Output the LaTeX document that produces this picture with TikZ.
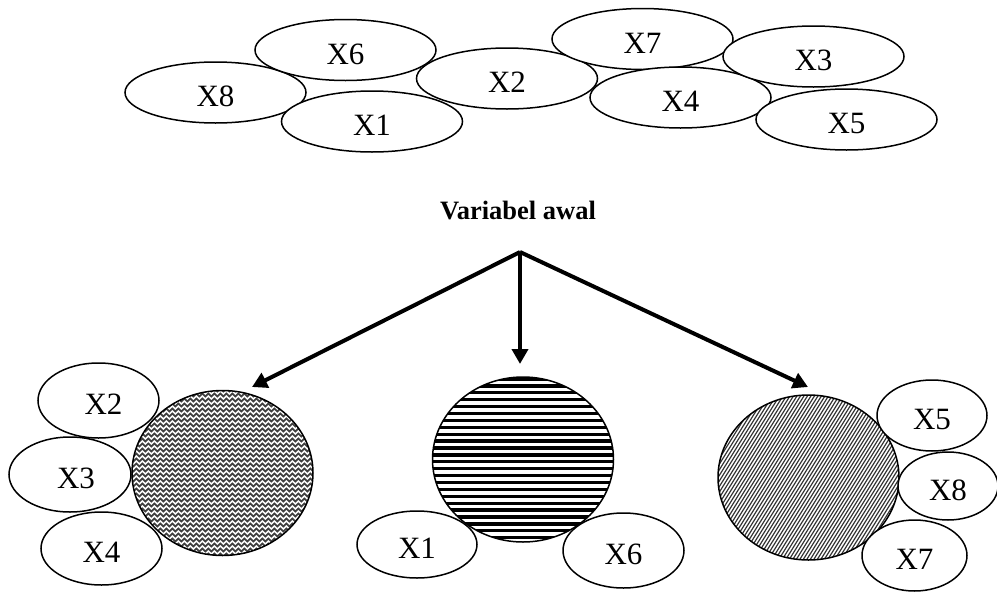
\documentclass[tikz,border=0pt]{standalone}
\usepackage{fontspec}
\setmainfont{Liberation Serif}
\usetikzlibrary{shapes.geometric,arrows.meta,decorations.pathmorphing}

\tikzset{
  var/.style={ellipse, draw, fill=white, line width=1.5pt, inner sep=0pt,
    font=\fontsize{31}{33}\selectfont, text height=28pt, text depth=0pt},
  topvar/.style={var, minimum width=181pt, minimum height=61pt},
  group/.style={ellipse, draw, line width=1.5pt, inner sep=0pt,
    minimum width=181pt, minimum height=165pt},
  flow/.style={line width=4pt, line cap=butt,
    -{Triangle[length=15pt,width=16pt]}},
  title/.style={font=\fontsize{26.5}{28}\selectfont\bfseries}
}

\begin{document}
\begin{tikzpicture}[x=1pt,y=-1pt]
\useasboundingbox (0,0) rectangle (997,592);

% ---- initial variables ----
\node[topvar] (t8) at (215.5,92.5) {X8};
\node[topvar] (t6) at (345.5,50) {X6};
\node[topvar] (t1) at (372,121.5) {X1};
\node[topvar] (t2) at (507,78.5) {X2};
\node[topvar] (t7) at (642.5,39) {X7};
\node[topvar] (t4) at (680.5,97.5) {X4};
\node[topvar] (t3) at (813.5,56.5) {X3};
\node[topvar] (t5) at (846.5,119.5) {X5};

\node[title] (title) at (518,211) {Variabel awal};

% ---- arrows to the three groups ----
\coordinate (apex) at (520,252);
\coordinate (tipL) at (252,387);
\coordinate (tipC) at (520,364);
\coordinate (tipR) at (808,387);
\draw[flow] (apex) -- (tipL);
\draw[flow] (apex) -- (tipC);
\draw[flow] (apex) -- (tipR);

% ---- group 1: wavy fill ----
\node[group, path picture={
  \begin{scope}[shift={(path picture bounding box.center)}]
    \foreach \r in {-88,-83,...,90}
      \draw[black!75, line width=1.7pt,
        decorate, decoration={snake, segment length=6pt, amplitude=1.5pt}]
        (-100,\r) -- (100,\r);
  \end{scope}}] (gL) at (222.5,473) {};

\node[var, minimum width=121pt, minimum height=75pt] (a2) at (98.5,400.5) {\hspace*{10pt}X2};
\node[var, minimum width=122pt, minimum height=75pt] (a3) at (70,474.5) {\hspace*{12pt}X3};
\node[var, minimum width=121pt, minimum height=73pt] (a4) at (101.5,548.5) {X4};

% ---- group 2: horizontal stripes ----
\node[group, path picture={
  \begin{scope}[shift={(path picture bounding box.center)}]
    \foreach \r in {-80.5,-73.6,...,85}
      \draw[black, line width=3.3pt] (-100,\r) -- (100,\r);
  \end{scope}}] (gC) at (523,459.5) {};

\node[var, minimum width=120pt, minimum height=67pt] (b1) at (417,544.5) {X1};
\node[var, minimum width=121pt, minimum height=75pt] (b6) at (623.5,550.5) {X6};

% ---- group 3: diagonal hatching ----
\node[group, path picture={
  \begin{scope}[shift={(path picture bounding box.center)}]
    \foreach \s in {-230,-226.5,...,110}
      \draw[black!80, line width=1.2pt] (\s,100) -- (\s+125,-100);
  \end{scope}}] (gR) at (808.5,477.5) {};

\node[var, minimum width=110pt, minimum height=71pt] (c5) at (932,415.5) {X5};
\node[var, minimum width=100pt, minimum height=68pt] (c8) at (948,486) {X8};
\node[var, minimum width=105pt, minimum height=71pt] (c7) at (914.5,555.5) {X7};
\end{tikzpicture}
\end{document}
